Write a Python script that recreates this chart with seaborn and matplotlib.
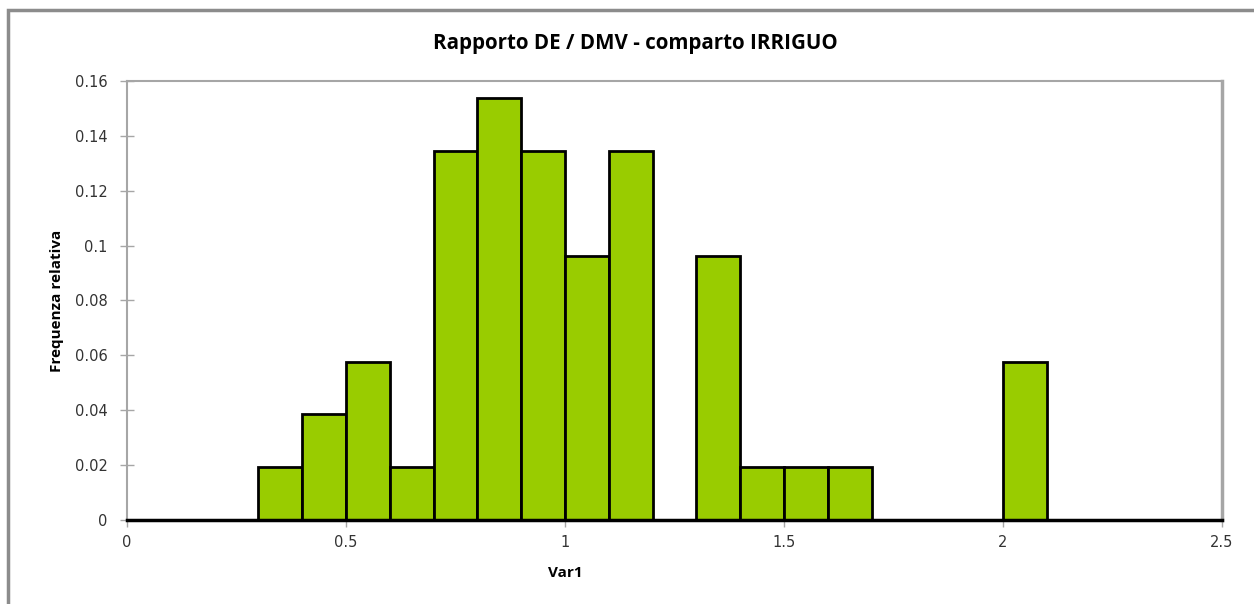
import numpy as np
import pandas as pd
import matplotlib
matplotlib.use("Agg")
import matplotlib.pyplot as plt
import seaborn as sns
from matplotlib.ticker import FuncFormatter
from matplotlib.patches import Rectangle

# Histogram classes of the ratio DE / DMV (width 0.1) and their relative frequencies
bin_edges = [round(0.1 * i, 1) for i in range(26)]
bin_centers = [round(0.05 + 0.1 * i, 2) for i in range(25)]
rel_freq = [0.0, 0.0, 0.0, 0.0192, 0.0385, 0.0577, 0.0192, 0.1346, 0.1538, 0.1346,
            0.0962, 0.1346, 0.0, 0.0962, 0.0192, 0.0192, 0.0192, 0.0, 0.0, 0.0,
            0.0577, 0.0, 0.0, 0.0, 0.0]
x_ticks = [0, 0.5, 1, 1.5, 2, 2.5]
y_ticks = [0, 0.02, 0.04, 0.06, 0.08, 0.10, 0.12, 0.14, 0.16]

title = "Rapporto DE / DMV - comparto IRRIGUO"
x_label = "Var1"
y_label = "Frequenza relativa"

df = pd.DataFrame({"Var1": bin_centers, "freq": rel_freq})

sns.set_style("white")
# Tick labels use DejaVu Sans; titles use Open Sans explicitly
plt.rcParams["font.family"] = ["DejaVu Sans"]
label_font = ["Open Sans", "DejaVu Sans"]

fig = plt.figure(figsize=(12.54, 6.04), dpi=100)
ax = fig.add_axes([0.1013, 0.139, 0.8732, 0.727])

sns.histplot(data=df, x="Var1", weights="freq", bins=bin_edges, ax=ax,
             color="#99CC00", alpha=1.0, edgecolor="black", linewidth=2,
             stat="count")

ax.set_xlim(0, 2.5)
ax.set_ylim(0, 0.16)
ax.set_xticks(x_ticks)
ax.set_yticks(y_ticks)
fmt = FuncFormatter(lambda v, p: f"{v:g}")
ax.xaxis.set_major_formatter(fmt)
ax.yaxis.set_major_formatter(fmt)

for side in ("left", "top", "right"):
    ax.spines[side].set_color("#A6A6A6")
    ax.spines[side].set_linewidth(1.5)
ax.spines["right"].set_linewidth(2.5)
ax.spines["bottom"].set_color("black")
ax.spines["bottom"].set_linewidth(2.5)
ax.spines["bottom"].set_zorder(5)

ax.tick_params(axis="y", direction="inout", length=10, width=1, color="#A6A6A6",
               labelsize=10.5, labelcolor="#333333", pad=9, left=True)
ax.tick_params(axis="x", direction="out", length=5, width=1, color="#A6A6A6",
               labelsize=10.5, labelcolor="#333333", pad=6, bottom=True)

ax.set_xlabel(x_label, fontsize=11, fontweight="bold", color="black", family=label_font)
ax.set_ylabel(y_label, fontsize=11, fontweight="bold", color="black", family=label_font)
ax.xaxis.set_label_coords(0.4, -0.105)
ax.yaxis.set_label_coords(-0.0575, 0.5)

fig.text(635 / 1254, 1 - 43 / 604, title, ha="center", va="center",
         fontsize=14.8, fontweight="bold", color="black", family=label_font)

# Chart-area frame
fig.patches.append(Rectangle((8 / 1254, -0.1), 1.2, 1 - 10 / 604 + 0.1,
                             transform=fig.transFigure, fill=False,
                             edgecolor="#8C8C8C", linewidth=2.5))

fig.savefig("out.png", dpi=100, facecolor="white")
